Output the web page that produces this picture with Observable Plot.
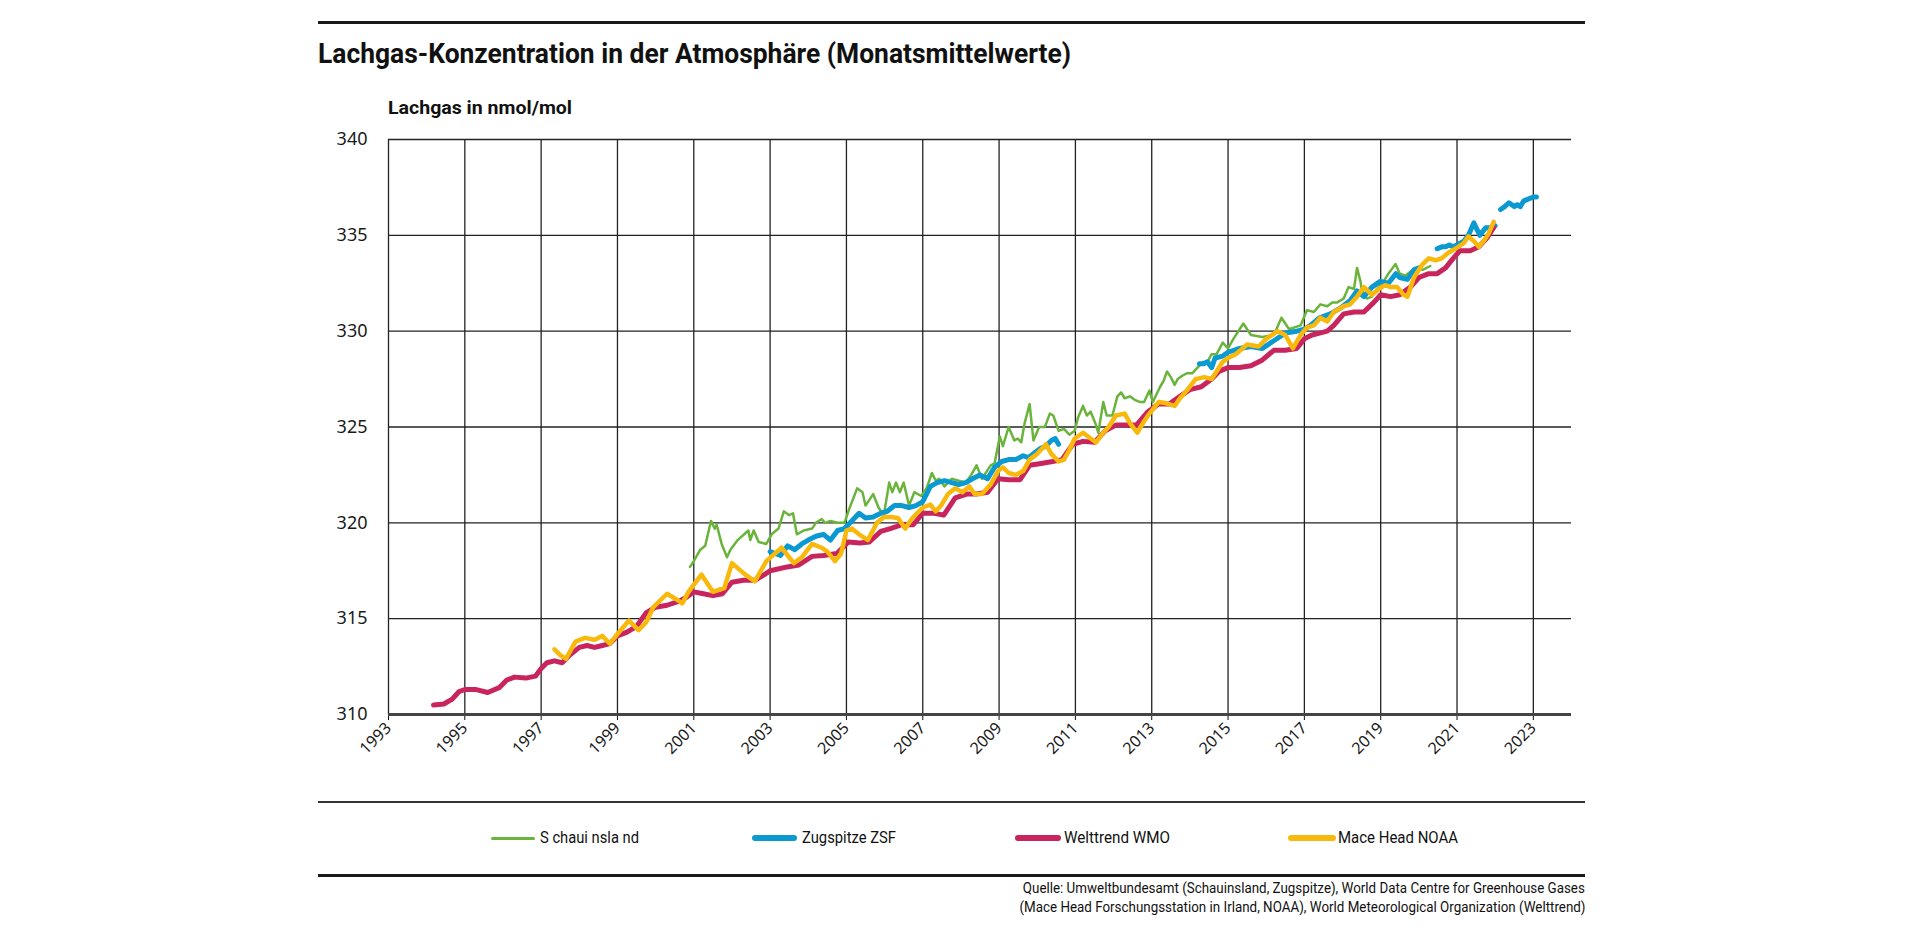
<!DOCTYPE html>
<html lang="de">
<head>
<meta charset="utf-8">
<script src="https://cdn.jsdelivr.net/npm/d3@7"></script>
<script src="https://cdn.jsdelivr.net/npm/@observablehq/plot@0.6"></script>
<style>
  html, body { margin: 0; padding: 0; background: #fff; overflow: hidden; }
  body { width: 1920px; height: 929px; position: relative; font-family: Roboto, "Noto Sans", sans-serif; color: #111; }
  .abs { position: absolute; white-space: nowrap; }
  .rule { position: absolute; left: 318px; width: 1267px; background: #1a1a1a; }
  #title { left: 318px; top: 38px; font-weight: 700; font-size: 27px; line-height: 32px; transform-origin: left center; }
  #ylabel { left: 388px; top: 96px; font-weight: 700; font-size: 18px; line-height: 24px; transform-origin: left center; }
  #chart { position: absolute; left: 0; top: 120px; }
  #chart svg { background: transparent; overflow: visible; }
  #chart g[aria-label^="y-axis"] text { font-family: "Noto Sans", sans-serif; font-size: 18px; fill: #1a1a1a; }
  #chart g[aria-label^="x-axis"] text { font-family: "Noto Sans", sans-serif; font-size: 16px; fill: #1a1a1a; }
  .leg-line { position: absolute; border-radius: 4px; }
  .leg-text { position: absolute; font-size: 16px; line-height: 20px; top: 828px; transform-origin: left center; }
  .src { right: 335px; font-size: 14px; line-height: 18px; transform-origin: right center; }
</style>
</head>
<body>
<div class="rule" style="top:21px;height:3px"></div>
<div id="title" class="abs">Lachgas-Konzentration in der Atmosphäre (Monatsmittelwerte)</div>
<div id="ylabel" class="abs">Lachgas in nmol/mol</div>
<div id="chart"></div>
<div class="rule" style="top:801px;height:1.5px;background:#333"></div>
<div id="legend"></div>
<div class="rule" style="top:874px;height:3px"></div>
<div id="src1" class="abs src" style="top:879px">Quelle: Umweltbundesamt (Schauinsland, Zugspitze), World Data Centre for Greenhouse Gases</div>
<div id="src2" class="abs src" style="top:898px">(Mace Head Forschungsstation in Irland, NOAA), World Meteorological Organization (Welttrend)</div>
<script>
// ---------- data ----------
const xTicks = [1993,1995,1997,1999,2001,2003,2005,2007,2009,2011,2013,2015,2017,2019,2021,2023];
const yTicks = [310,315,320,325,330,335,340];

const seriesNames = ["S chaui nsla nd", "Zugspitze ZSF", "Welttrend WMO", "Mace Head NOAA"];
const seriesColors = ["#6ab43c", "#0a99d1", "#c8245d", "#f9b90c"];

const welttrendYears = [1994.18,1994.45,1994.67,1994.85,1995.0,1995.3,1995.6,1995.9,1996.1,1996.3,1996.6,1996.85,1997.0,1997.15,1997.35,1997.55,1997.75,1998.0,1998.2,1998.4,1998.6,1998.8,1999.0,1999.25,1999.5,1999.75,2000.0,2000.3,2000.6,2000.8,2001.0,2001.25,2001.5,2001.75,2002.0,2002.3,2002.6,2002.85,2003.0,2003.45,2003.75,2004.1,2004.4,2004.75,2005.05,2005.35,2005.6,2005.9,2006.15,2006.45,2006.75,2007.0,2007.3,2007.55,2007.85,2008.15,2008.4,2008.7,2008.97,2009.25,2009.55,2009.8,2010.1,2010.4,2010.65,2010.93,2011.2,2011.5,2011.78,2012.06,2012.35,2012.6,2012.9,2013.18,2013.46,2013.74,2014.0,2014.3,2014.57,2014.76,2015.0,2015.3,2015.6,2015.9,2016.2,2016.5,2016.8,2017.0,2017.2,2017.4,2017.6,2017.77,2018.03,2018.3,2018.56,2018.82,2019.0,2019.26,2019.5,2019.78,2020.0,2020.26,2020.48,2020.7,2020.9,2021.08,2021.35,2021.57,2021.8,2021.96];
const welttrendValues = [310.5,310.55,310.8,311.2,311.3,311.3,311.15,311.4,311.8,311.95,311.9,312.0,312.4,312.7,312.8,312.7,313.1,313.5,313.6,313.5,313.6,313.7,314.1,314.3,314.6,315.3,315.6,315.7,315.9,316.1,316.4,316.3,316.2,316.3,316.9,317.0,317.0,317.3,317.5,317.7,317.8,318.25,318.3,318.4,319.0,318.95,319.0,319.55,319.7,319.9,319.9,320.5,320.5,320.4,321.3,321.5,321.5,321.6,322.3,322.25,322.25,323.0,323.1,323.2,323.3,324.1,324.25,324.2,324.8,325.1,325.1,325.1,325.8,326.2,326.2,326.6,326.95,327.1,327.5,327.9,328.1,328.1,328.2,328.5,329.0,329.0,329.1,329.6,329.8,329.9,330.0,330.3,330.9,331.0,331.0,331.5,331.9,331.8,331.9,332.3,332.8,333.0,333.0,333.3,333.8,334.2,334.2,334.4,334.9,335.4];

const maceHeadYears = [1997.35,1997.5,1997.65,1997.9,1998.15,1998.4,1998.6,1998.8,1999.0,1999.3,1999.55,1999.75,1999.94,2000.3,2000.55,2000.7,2000.86,2001.2,2001.5,2001.8,2002.0,2002.35,2002.6,2002.9,2003.3,2003.62,2003.83,2004.1,2004.35,2004.5,2004.7,2004.86,2005.0,2005.14,2005.33,2005.56,2005.8,2005.98,2006.17,2006.35,2006.54,2006.73,2007.0,2007.2,2007.34,2007.48,2007.66,2007.85,2008.04,2008.22,2008.36,2008.55,2008.78,2008.97,2009.1,2009.25,2009.44,2009.63,2009.8,2010.0,2010.23,2010.37,2010.56,2010.7,2010.84,2010.98,2011.2,2011.4,2011.54,2011.73,2011.87,2012.06,2012.29,2012.43,2012.62,2012.8,2012.94,2013.18,2013.36,2013.6,2013.74,2013.92,2014.15,2014.38,2014.57,2014.7,2014.86,2015.0,2015.2,2015.5,2015.8,2016.0,2016.3,2016.5,2016.7,2016.9,2017.07,2017.25,2017.42,2017.6,2017.77,2018.03,2018.2,2018.38,2018.56,2018.77,2018.95,2019.12,2019.26,2019.43,2019.6,2019.7,2019.87,2020.1,2020.26,2020.44,2020.6,2020.78,2020.96,2021.18,2021.3,2021.44,2021.57,2021.7,2021.83,2021.96];
const maceHeadValues = [313.4,313.1,312.9,313.8,314.0,313.9,314.1,313.7,314.2,314.9,314.4,314.8,315.6,316.3,316.0,315.8,316.4,317.3,316.4,316.6,317.9,317.3,316.95,318.0,318.7,317.9,318.2,318.9,318.7,318.5,318.0,318.4,319.6,319.7,319.4,319.1,320.0,320.3,320.3,320.25,319.7,320.25,320.8,320.95,320.6,320.9,321.5,321.8,321.6,321.9,321.5,321.5,322.0,322.7,322.9,322.6,322.5,322.7,323.3,323.6,324.1,323.6,323.2,323.3,323.8,324.4,324.7,324.4,324.2,324.7,325.0,325.6,325.7,325.2,324.7,325.3,325.7,326.3,326.25,326.1,326.5,326.9,327.5,327.6,327.5,327.9,328.4,328.6,328.8,329.3,329.2,329.6,330.0,329.8,329.1,329.8,330.2,330.3,330.7,330.5,331.0,331.3,331.4,331.8,332.3,331.9,332.2,332.4,332.3,332.3,331.9,331.8,332.8,333.5,333.8,333.7,333.8,334.1,334.3,334.6,334.95,334.7,334.4,334.7,335.1,335.7];

// Zugspitze: several measurement periods (gaps between them)
const zugspitzeSegment = [1,1,1,1,1,1,1,1,1,1,1,1,1,1,1,1,1,1,1,1,1,1,1,1,1,1,1,1,1,1,1,1,1,1,1,1,1,1,1,1,1,1,1,1, 2,2,2,2,2,2,2,2,2,2,2,2,2,2,2,2,2,2,2,2,2,2,2,2,2,2,2,2,2, 3,3,3,3,3,3,3,3,3,3,3,3,3,3, 4,4,4,4,4,4,4,4,4,4];
const zugspitzeYears = [2003.0,2003.13,2003.27,2003.46,2003.64,2003.83,2004.0,2004.2,2004.4,2004.58,2004.77,2004.95,2005.14,2005.33,2005.5,2005.7,2005.9,2006.07,2006.26,2006.45,2006.64,2006.82,2007.0,2007.2,2007.38,2007.57,2007.76,2007.94,2008.13,2008.3,2008.5,2008.7,2008.88,2009.07,2009.25,2009.44,2009.63,2009.77,2009.9,2010.1,2010.23,2010.37,2010.47,2010.56,
  2014.25,2014.36,2014.46,2014.57,2014.66,2014.86,2015.0,2015.3,2015.6,2015.9,2016.2,2016.5,2016.8,2017.0,2017.16,2017.4,2017.68,2017.94,2018.2,2018.38,2018.56,2018.77,2018.99,2019.2,2019.4,2019.5,2019.7,2019.87,2020.0,
  2020.48,2020.6,2020.7,2020.8,2020.9,2021.0,2021.18,2021.3,2021.44,2021.5,2021.6,2021.75,2021.88,2022.0,
  2022.14,2022.25,2022.36,2022.5,2022.58,2022.66,2022.75,2022.88,2023.0,2023.08];
const zugspitzeValues = [318.5,318.4,318.3,318.8,318.6,318.9,319.1,319.3,319.4,319.1,319.6,319.7,320.1,320.5,320.25,320.3,320.5,320.6,320.9,320.9,320.8,320.9,321.1,321.9,322.1,322.2,322.1,322.0,322.1,322.3,322.5,322.3,322.9,323.2,323.3,323.3,323.5,323.4,323.6,323.9,324.0,324.3,324.4,324.1,
  328.3,328.3,328.4,328.1,328.6,328.7,328.9,329.1,329.2,329.1,329.5,329.9,330.0,330.1,330.3,330.7,330.9,331.2,331.6,332.1,331.8,332.3,332.6,332.5,333.0,332.8,332.7,333.2,333.3,
  334.3,334.4,334.4,334.5,334.4,334.5,334.7,335.0,335.65,335.4,335.0,335.4,335.4,335.5,
  336.35,336.5,336.7,336.5,336.6,336.5,336.8,336.9,337.0,337.0];

const schauinslandYears = [2000.9,2001.0,2001.17,2001.3,2001.45,2001.55,2001.6,2001.73,2001.87,2001.96,2002.15,2002.43,2002.48,2002.57,2002.7,2002.9,2003.04,2003.22,2003.36,2003.5,2003.6,2003.7,2003.88,2004.1,2004.2,2004.35,2004.44,2004.58,2004.77,2004.95,2005.05,2005.28,2005.42,2005.5,2005.7,2005.84,2005.98,2006.12,2006.2,2006.3,2006.4,2006.5,2006.64,2006.78,2006.96,2007.1,2007.24,2007.34,2007.43,2007.57,2007.76,2007.94,2008.13,2008.27,2008.41,2008.55,2008.78,2008.88,2009.02,2009.1,2009.25,2009.4,2009.49,2009.58,2009.67,2009.8,2009.9,2010.05,2010.2,2010.33,2010.42,2010.56,2010.7,2010.84,2010.98,2011.07,2011.2,2011.3,2011.4,2011.54,2011.6,2011.73,2011.82,2011.97,2012.1,2012.2,2012.29,2012.43,2012.57,2012.7,2012.8,2012.94,2013.03,2013.22,2013.31,2013.4,2013.5,2013.6,2013.68,2013.82,2013.92,2014.06,2014.2,2014.34,2014.43,2014.57,2014.7,2014.86,2015.0,2015.14,2015.4,2015.6,2015.9,2016.2,2016.4,2016.6,2016.9,2017.07,2017.25,2017.42,2017.6,2017.73,2017.86,2018.03,2018.16,2018.3,2018.38,2018.47,2018.5,2018.64,2018.77,2018.9,2019.08,2019.2,2019.39,2019.5,2019.65,2019.78,2019.9,2020.1,2020.3];
const schauinslandValues = [317.7,318.0,318.6,318.8,320.1,319.7,319.9,318.9,318.2,318.6,319.1,319.6,319.1,319.6,319.0,318.9,319.4,319.7,320.6,320.4,320.5,319.4,319.6,319.7,320.0,320.2,320.0,320.1,320.0,320.0,320.6,321.8,321.6,320.9,321.5,320.8,320.4,322.1,321.6,322.1,321.6,322.1,320.9,321.6,321.4,321.8,322.6,322.2,322.3,321.9,322.3,322.2,322.1,322.5,323.0,322.3,323.0,323.1,324.5,324.0,325.0,324.3,324.4,324.2,325.2,326.2,324.3,325.0,325.0,325.7,325.6,324.8,324.9,324.6,324.8,325.5,326.1,325.6,325.8,325.1,324.7,326.3,325.6,325.6,326.6,326.8,326.5,326.6,326.4,326.3,326.3,326.9,326.3,327.1,327.4,327.9,327.6,327.2,327.5,327.7,327.8,327.8,328.1,328.4,328.3,328.8,328.8,329.4,329.1,329.6,330.4,329.8,329.7,329.8,330.7,330.1,330.3,331.1,331.0,331.4,331.3,331.5,331.5,331.7,332.3,332.2,333.3,332.6,332.2,331.7,331.8,332.2,332.6,333.0,333.5,333.0,332.9,333.1,333.3,333.2,333.4];

// ---------- tables built from the arrays ----------
const rows = (years, values, extra = {}) => years.map((x, i) => ({x, y: values[i], ...Object.fromEntries(Object.entries(extra).map(([k, a]) => [k, a[i]]))}));
const schauinsland = rows(schauinslandYears, schauinslandValues);
const zugspitze = rows(zugspitzeYears, zugspitzeValues, {seg: zugspitzeSegment});
const welttrend = rows(welttrendYears, welttrendValues);
const maceHead = rows(maceHeadYears, maceHeadValues);

const chart = Plot.plot({
  width: 1920,
  height: 660,
  marginTop: 19,
  marginBottom: 66,
  marginLeft: 388,
  marginRight: 349,
  style: {background: "transparent", overflow: "visible"},
  x: {domain: [1993, 2024], ticks: xTicks, tickFormat: d => String(d), tickRotate: -45, tickSize: 6, tickPadding: 5, label: null, line: false},
  y: {domain: [310, 340], ticks: yTicks, tickSize: 0, tickPadding: 21, label: null},
  marks: [
    Plot.ruleY(yTicks.filter(d => d > 310), {stroke: "#222", strokeWidth: 1.3, strokeOpacity: 1}),
    Plot.ruleX(xTicks, {y1: 310, y2: 340, stroke: "#222", strokeWidth: 1.3}),
    Plot.line(schauinsland, {x: "x", y: "y", stroke: seriesColors[0], strokeWidth: 2.5}),
    Plot.line(zugspitze, {x: "x", y: "y", z: "seg", stroke: seriesColors[1], strokeWidth: 5}),
    Plot.line(welttrend, {x: "x", y: "y", stroke: seriesColors[2], strokeWidth: 5}),
    Plot.line(maceHead, {x: "x", y: "y", stroke: seriesColors[3], strokeWidth: 4.5}),
    Plot.ruleY([310], {stroke: "#444", strokeWidth: 3})
  ]
});
document.getElementById("chart").appendChild(chart);

// ---------- legend ----------
const legendLines = [[491, 44], [752, 45], [1015, 46], [1288, 48]];
const legendTextX = [540, 802, 1064, 1338];
const legendTextW = [99, 94, 106, 120];
const legend = document.getElementById("legend");
seriesNames.forEach((name, i) => {
  const line = document.createElement("div");
  line.className = "leg-line";
  const h = i === 0 ? 3 : 6;
  Object.assign(line.style, {left: legendLines[i][0] + "px", width: legendLines[i][1] + "px", top: (838 - h / 2) + "px", height: h + "px", background: seriesColors[i]});
  legend.appendChild(line);
  const t = document.createElement("div");
  t.className = "leg-text abs";
  t.textContent = name;
  t.style.left = legendTextX[i] + "px";
  legend.appendChild(t);
  fit(t, legendTextW[i]);
});

function fit(el, w) {
  const r = el.getBoundingClientRect().width;
  if (r > 0) el.style.transform = `scaleX(${w / r})`;
}
fit(document.getElementById("title"), 753);
fit(document.getElementById("ylabel"), 184);
fit(document.getElementById("src1"), 562);
fit(document.getElementById("src2"), 566);
</script>
</body>
</html>
